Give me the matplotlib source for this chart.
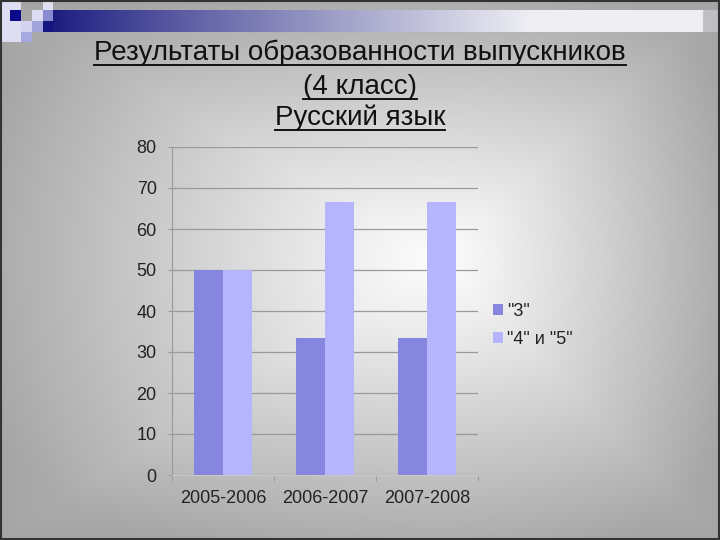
import numpy as np
import matplotlib
matplotlib.use("Agg")
import matplotlib.pyplot as plt
from matplotlib.patches import Rectangle

plt.rcParams['font.family'] = ['Liberation Sans', 'DejaVu Sans']

# data
years = ["2005-2006", "2006-2007", "2007-2008"]
grade3 = [50, 33.3, 33.3]
grade45 = [50, 66.7, 66.7]
series_names = ['"3"', '"4" и "5"']
title_lines = ["Результаты образованности выпускников", "(4 класс)", "Русский язык"]

c_dark = "#8686de"
c_light = "#b5b5fd"

W, H = 720, 540
fig = plt.figure(figsize=(7.2, 5.4), dpi=100)

# ---- slide background ----
bg = fig.add_axes([0, 0, 1, 1])
bg.set_xlim(0, W)
bg.set_ylim(H, 0)
bg.axis("off")
yy, xx = np.mgrid[0:H, 0:W]
cx, cy = 440, 260
dx = np.where(xx < cx, (cx - xx) / cx, (xx - cx) / (W - cx))
dy = np.where(yy < cy, (cy - yy) / cy, (yy - cy) / (H - cy))
t = np.clip(np.sqrt(dx ** 2 + dy ** 2) / 1.2, 0, 1)
t = 0.5 * t + 0.5 * np.maximum(dx, dy)
val = 253 - 88 * np.clip(t, 0, 1) ** 1.1
img = np.dstack([val, val, val]) / 255.0
bg.imshow(img, extent=(0, W, H, 0), aspect="auto", interpolation="bilinear")

# top gradient bar
bar_x = np.linspace(0, 1, 400)
navy = np.array([22, 22, 125]) / 255.0
white = np.array([238, 238, 244]) / 255.0
f = np.clip(bar_x / 0.72, 0, 1) ** 0.9
grad = navy[None, :] * (1 - f[:, None]) + white[None, :] * f[:, None]
grad[bar_x > 0.975] = grad[bar_x > 0.975] * 0.8
bg.imshow(grad[None, :, :], extent=(43, W, 32, 10), aspect="auto")

# decorative squares
squares = [
    (0, 0, 21, 42, "#dedef2"),
    (10, 10, 11, 11, "#0a0a8a"),
    (21, 21, 11, 11, "#d4d4f0"),
    (21, 32, 11, 10, "#a8a8e0"),
    (32, 10, 11, 11, "#dcdcf2"),
    (32, 21, 11, 11, "#a4a4dc"),
    (43, 0, 10, 10, "#e0e0f4"),
    (43, 10, 10, 11, "#8a8ad0"),
    (43, 21, 10, 11, "#161680"),
]
for sx, sy, sw, sh, col in squares:
    bg.add_patch(Rectangle((sx, sy), sw, sh, color=col, lw=0, zorder=3))

# slide border
bg.add_patch(Rectangle((0.5, 0.5), W - 1.5, H - 1.5, fill=False, ec="#333333", lw=1.5, zorder=4))

# ---- title ----
title_y = [53, 87, 118]
title_texts = []
for line, ty in zip(title_lines, title_y):
    tx = bg.text(360, ty, line, ha="center", va="center", fontsize=20, color="#111111", zorder=5)
    title_texts.append(tx)

# ---- chart ----
ax = fig.add_axes([172 / W, 1 - 475 / H, 306 / W, 328 / H])
ax.patch.set_alpha(0)
x = np.arange(len(years))
bw = 0.285
ax.bar(x - bw / 2, grade3, bw, color=c_dark, label=series_names[0], zorder=3)
ax.bar(x + bw / 2, grade45, bw, color=c_light, label=series_names[1], zorder=3)
ax.set_xlim(-0.5, 2.5)
ax.set_ylim(0, 80)
ax.set_yticks(range(0, 81, 10))
ax.set_xticks(x)
ax.set_xticklabels(years)
ax.set_xticks([-0.5, 0.5, 1.5, 2.5], minor=True)
ax.tick_params(axis="x", which="major", length=0, pad=11, labelsize=13, labelcolor="#222222")
ax.tick_params(axis="x", which="minor", length=4, color="#999999", direction="out")
ax.tick_params(axis="y", length=3, color="#999999", labelsize=13, labelcolor="#222222", pad=8)
ax.grid(axis="y", color="#9a9a9a", lw=0.9, zorder=1)
for s in ["top", "right"]:
    ax.spines[s].set_visible(False)
ax.spines["left"].set_color("#999999")
ax.spines["bottom"].set_color("#c8c8c8")

leg = fig.legend(loc="upper left", bbox_to_anchor=(493 / W, 1 - 303 / H), frameon=False,
                 fontsize=13, handlelength=0.55, handleheight=0.55, handletextpad=0.25,
                 labelspacing=0.6, borderaxespad=0, borderpad=0)
for txt in leg.get_texts():
    txt.set_color("#222222")

# underline the title
fig.canvas.draw()
r = fig.canvas.get_renderer()
for tx in title_texts:
    bb = tx.get_window_extent(r)
    y0 = bb.y0 + 1
    fig.add_artist(plt.Line2D([bb.x0 / W, bb.x1 / W], [y0 / H, y0 / H],
                              color="#111111", lw=1.4, transform=fig.transFigure, zorder=6))

fig.savefig("out.png", dpi=100)
